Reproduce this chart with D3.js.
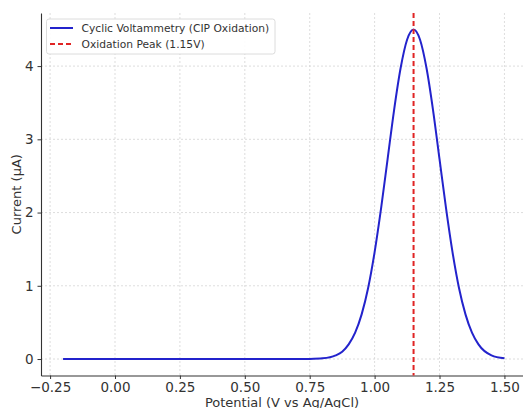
<!DOCTYPE html>
<html>
<head>
<meta charset="utf-8">
<script src="https://cdn.jsdelivr.net/npm/d3@7"></script>
<style>
  body { margin: 0; background: #fff; }
  text { font-family: "DejaVu Sans", sans-serif; fill: #333; }
</style>
</head>
<body>
<div id="chart"></div>
<script>
// values
var potential = [-0.2, 0.0, 0.25, 0.5, 0.7, 0.75, 0.8, 0.85, 0.875, 0.9, 0.925, 0.95, 0.975, 1.0, 1.025, 1.05, 1.075, 1.1, 1.125, 1.15,
                 1.175, 1.2, 1.225, 1.25, 1.275, 1.3, 1.325, 1.35, 1.375, 1.4, 1.45, 1.5];
var current = [0, 0, 0, 0, 0.0, 0.002, 0.01, 0.05, 0.10, 0.20, 0.36, 0.61, 0.97, 1.46, 2.06, 2.73, 3.40, 3.97, 4.36, 4.5,
               4.36, 3.97, 3.40, 2.73, 2.06, 1.46, 0.97, 0.61, 0.36, 0.20, 0.05, 0.01];
var xTicks = [-0.25, 0.0, 0.25, 0.5, 0.75, 1.0, 1.25, 1.5];
var yTicks = [0, 1, 2, 3, 4];
var peakPotential = 1.15;
var seriesLabels = ["Cyclic Voltammetry (CIP Oxidation)", "Oxidation Peak (1.15V)"];

var width = 523, height = 408;
var plotLeft = 41, plotRight = 526.5, plotTop = 13, plotBottom = 375.5;

var svg = d3.select("#chart")
    .append("svg")
    .attr("width", width)
    .attr("height", height);

var xPad = 0.05 * (d3.max(potential) - d3.min(potential));
var yPad = 0.05 * (d3.max(current) - d3.min(current));

var x = d3.scaleLinear()
    .domain([d3.min(potential) - xPad, d3.max(potential) + xPad])
    .range([plotLeft, plotRight]);
var y = d3.scaleLinear()
    .domain([d3.min(current) - yPad, d3.max(current) + yPad])
    .range([plotBottom, plotTop]);

// grid
svg.append("g")
    .selectAll("line")
    .data(xTicks)
    .enter()
    .append("line")
    .attr("x1", function(d){ return x(d) })
    .attr("x2", function(d){ return x(d) })
    .attr("y1", plotTop)
    .attr("y2", plotBottom)
    .attr("stroke", "#d4d4d4")
    .attr("stroke-width", 0.8)
    .attr("stroke-dasharray", "2,2");

svg.append("g")
    .selectAll("line")
    .data(yTicks)
    .enter()
    .append("line")
    .attr("x1", plotLeft)
    .attr("x2", plotRight)
    .attr("y1", function(d){ return y(d) })
    .attr("y2", function(d){ return y(d) })
    .attr("stroke", "#d4d4d4")
    .attr("stroke-width", 0.8)
    .attr("stroke-dasharray", "2,2");

// axes
var fmt = function(d){ return d3.format(".2f")(d).replace("-", "\u2212") };

var xAxis = svg.append("g")
    .attr("transform", "translate(0," + plotBottom + ")")
    .call(d3.axisBottom(x).tickValues(xTicks).tickFormat(fmt).tickSize(3.5).tickSizeOuter(0).tickPadding(3));

var yAxis = svg.append("g")
    .attr("transform", "translate(" + plotLeft + ",0)")
    .call(d3.axisLeft(y).tickValues(yTicks).tickFormat(d3.format("d")).tickSize(3.5).tickSizeOuter(0).tickPadding(4));

[xAxis, yAxis].forEach(function(a) {
    a.select(".domain").attr("stroke", "#333").attr("stroke-width", 1.1);
    a.selectAll(".tick line").attr("stroke", "#333");
    a.selectAll(".tick text")
        .attr("font-size", "13.5px")
        .attr("font-family", "DejaVu Sans")
        .style("fill", "#333");
});

svg.append("text")
    .attr("x", (plotLeft + 523) / 2)
    .attr("y", 407)
    .attr("text-anchor", "middle")
    .attr("font-size", "13px")
    .text("Potential (V vs Ag/AgCl)");

svg.append("text")
    .attr("transform", "translate(21," + ((plotTop + plotBottom) / 2) + ") rotate(-90)")
    .attr("text-anchor", "middle")
    .attr("font-size", "13px")
    .text("Current (\u00b5A)");

// curve
var pts = potential.map(function(d, i){ return [d, current[i]] });
var line = d3.line()
    .x(function(d){ return x(d[0]) })
    .y(function(d){ return y(d[1]) })
    .curve(d3.curveMonotoneX);

svg.append("path")
    .datum(pts)
    .attr("d", line)
    .attr("fill", "none")
    .attr("stroke", "#2323cc")
    .attr("stroke-width", 2);

// peak marker
svg.append("line")
    .attr("x1", x(peakPotential))
    .attr("x2", x(peakPotential))
    .attr("y1", plotTop)
    .attr("y2", plotBottom)
    .attr("stroke", "#e02424")
    .attr("stroke-width", 2)
    .attr("stroke-dasharray", "5,3");

// legend
var lg = svg.append("g");
lg.append("rect")
    .attr("x", 46.5)
    .attr("y", 19)
    .attr("width", 228.5)
    .attr("height", 35)
    .attr("rx", 2.5)
    .attr("fill", "#fff")
    .attr("fill-opacity", 0.9)
    .attr("stroke", "#d8d8d8")
    .attr("stroke-width", 0.9);

lg.append("line")
    .attr("x1", 50).attr("x2", 73)
    .attr("y1", 28).attr("y2", 28)
    .attr("stroke", "#2323cc")
    .attr("stroke-width", 2);
lg.append("line")
    .attr("x1", 50).attr("x2", 73)
    .attr("y1", 44).attr("y2", 44)
    .attr("stroke", "#e02424")
    .attr("stroke-width", 2)
    .attr("stroke-dasharray", "5,3");

lg.selectAll("mylabels")
    .data(seriesLabels)
    .enter()
    .append("text")
    .attr("x", 81.5)
    .attr("y", function(d, i){ return 32 + i * 16 })
    .attr("font-size", "10.7px")
    .text(function(d){ return d });
</script>
</body>
</html>
